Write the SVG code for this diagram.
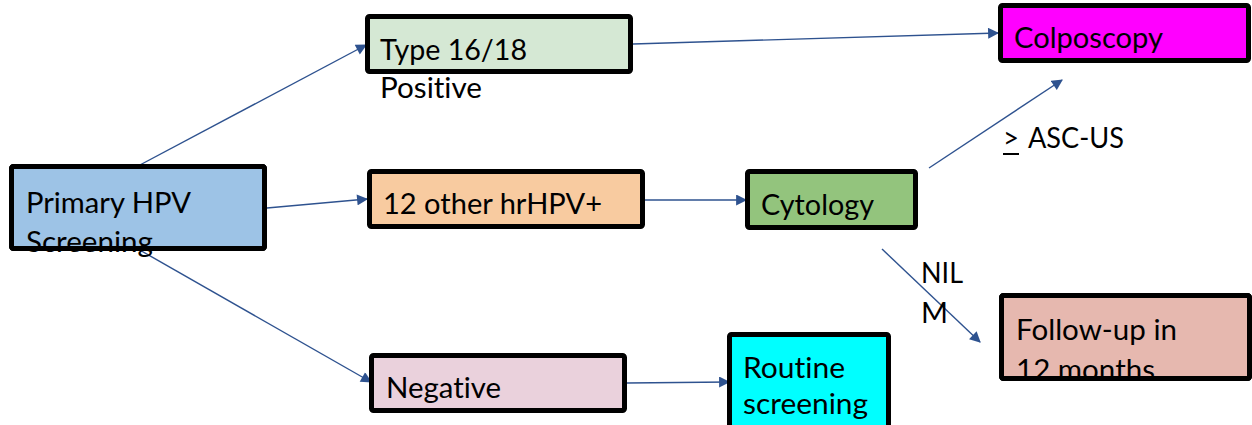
<svg xmlns="http://www.w3.org/2000/svg" width="1252" height="425" viewBox="0 0 1252 425">
<style>
.bx{stroke:#000;stroke-width:5;stroke-linejoin:round}
.bd{fill:none;stroke:#000;stroke-width:5;stroke-linejoin:round}
text{font-family:Lato,"Noto Sans","Liberation Sans",sans-serif;font-size:29px;fill:#000;font-variant-ligatures:none;font-feature-settings:"liga" 0}
.cn{stroke:#2e528f;stroke-width:1.4;fill:none;marker-end:url(#ah)}
</style>
<defs>
<marker id="ah" viewBox="0 0 10 10" refX="9" refY="5" markerWidth="12" markerHeight="11" markerUnits="userSpaceOnUse" orient="auto">
<path d="M0,0 L10,5 L0,10 Z" fill="#2e528f"/>
</marker>
</defs>
<rect width="1252" height="425" fill="#fff"/>
<g id="connectors">
<line class="cn" x1="138" y1="166" x2="366" y2="45"/>
<line class="cn" x1="267" y1="208" x2="367" y2="199"/>
<line class="cn" x1="138" y1="249" x2="371" y2="382"/>
<line class="cn" x1="633" y1="44" x2="998" y2="33"/>
<line class="cn" x1="643" y1="200" x2="746" y2="200"/>
<line class="cn" x1="929" y1="168" x2="1062" y2="80"/>
<line class="cn" x1="882" y1="249" x2="980" y2="342"/>
<line class="cn" x1="627" y1="383" x2="729" y2="382"/>
</g>
<g id="primary">
<rect class="bx" x="11.5" y="166.5" width="253" height="82" rx="2" fill="#9dc3e6"/>
<text x="26" y="213" textLength="165" lengthAdjust="spacingAndGlyphs">Primary HPV</text>
<text x="26" y="252" textLength="127" lengthAdjust="spacingAndGlyphs">Screening</text>
<rect class="bd" x="11.5" y="166.5" width="253" height="82" rx="2"/>
</g>
<g id="type1618">
<rect class="bx" x="367.5" y="16.5" width="263" height="55" rx="2" fill="#d5e8d4"/>
<text x="380" y="60" textLength="147" lengthAdjust="spacingAndGlyphs">Type 16/18</text>
<text x="380" y="98" textLength="102" lengthAdjust="spacingAndGlyphs">Positive</text>
</g>
<g id="colposcopy">
<rect class="bx" x="1000.5" y="5.5" width="248" height="55" rx="2" fill="#ff00ff"/>
<text x="1014" y="48" textLength="149" lengthAdjust="spacingAndGlyphs">Colposcopy</text>
</g>
<g id="other">
<rect class="bx" x="369.5" y="171.5" width="273" height="55" rx="2" fill="#f8cba0"/>
<text x="383" y="214" textLength="219" lengthAdjust="spacingAndGlyphs">12 other hrHPV+</text>
</g>
<g id="cytology">
<rect class="bx" x="747.5" y="171.5" width="168" height="56" rx="2" fill="#93c47d"/>
<text x="761" y="215" textLength="113" lengthAdjust="spacingAndGlyphs">Cytology</text>
</g>
<g id="followup">
<rect class="bx" x="1001.5" y="295.5" width="248" height="83" rx="2" fill="#e6b8af"/>
<text x="1016" y="340" textLength="161" lengthAdjust="spacingAndGlyphs">Follow-up in</text>
<text x="1016" y="380" textLength="139" lengthAdjust="spacingAndGlyphs">12 months</text>
<rect class="bd" x="1001.5" y="295.5" width="248" height="83" rx="2"/>
</g>
<g id="negative">
<rect class="bx" x="371.5" y="355.5" width="253" height="55" rx="2" fill="#ead1dc"/>
<text x="386" y="398" textLength="115" lengthAdjust="spacingAndGlyphs">Negative</text>
</g>
<g id="routine">
<rect class="bx" x="729.5" y="334.5" width="159" height="100" rx="2" fill="#00ffff"/>
<text x="743" y="378" textLength="102" lengthAdjust="spacingAndGlyphs">Routine</text>
<text x="743" y="414" textLength="125" lengthAdjust="spacingAndGlyphs">screening</text>
</g>
<g id="labels">
<text x="1003" y="148" textLength="16" lengthAdjust="spacingAndGlyphs">&gt;</text>
<line x1="1003" y1="154" x2="1019" y2="154" stroke="#000" stroke-width="2"/>
<text x="1028" y="148" textLength="96" lengthAdjust="spacingAndGlyphs">ASC-US</text>
<text x="921" y="283" textLength="42" lengthAdjust="spacingAndGlyphs">NIL</text>
<text x="921" y="323" textLength="27" lengthAdjust="spacingAndGlyphs">M</text>
</g>
</svg>
